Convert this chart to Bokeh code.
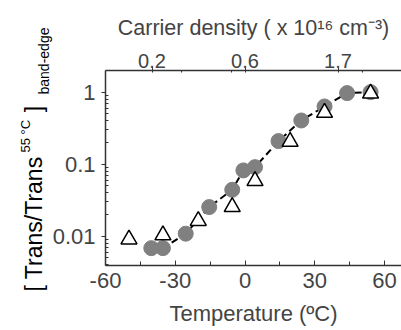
from bokeh.plotting import figure
from bokeh.models import (Range1d, LinearAxis, FixedTicker, Title, CustomJSTickFormatter)
from bokeh.embed import file_html
from bokeh.resources import INLINE

# ---- data ----
temp_circ = [-40.3, -35.3, -25.5, -15.4, -5.5, -0.7, 4.3, 14.4, 24.2, 34.2, 43.9, 54.0]
ratio_circ = [0.0068, 0.0068, 0.0108, 0.0253, 0.044, 0.0818, 0.0908, 0.209, 0.404, 0.633, 0.97, 1.0]
temp_tri = [-49.9, -35.3, -20.1, -5.5, 4.3, 19.4, 34.2, 54.0]
ratio_tri = [0.0090, 0.0103, 0.0163, 0.0254, 0.0583, 0.205, 0.518, 0.96]

x_ticks = [-60, -30, 0, 30, 60]
x_minor = [-45, -15, 15, 45]
y_ticks = [0.01, 0.1, 1]
y_minor = [0.004, 0.005, 0.006, 0.007, 0.008, 0.009,
           0.02, 0.03, 0.04, 0.05, 0.06, 0.07, 0.08, 0.09,
           0.2, 0.3, 0.4, 0.5, 0.6, 0.7, 0.8, 0.9, 2]
top_tick_pos = [-40, 0, 40]
top_tick_labels = ["0.2", "0.6", "1.7"]
top_minor_pos = [-27.2, -5.6, 50.5]

x_title = "Temperature (ºC)"
top_title = "Carrier density ( x 10\u00b9\u2076 cm\u207b\u00b3)"
y_title_main = "[ Trans/Trans" + "\u00a0" * 7 + "]"
y_title_sup = "55 °C"
y_title_sub = "band-edge"

FONT = "Liberation Sans"

p = figure(width=401, height=330,
           x_range=Range1d(-60, 67.3), y_range=Range1d(0.0039, 2.0),
           y_axis_type="log", output_backend="svg", toolbar_location=None,
           min_border_left=105, min_border_right=0, min_border_top=70, min_border_bottom=65)
p.outline_line_color = None
p.grid.visible = False

axis_color = "#333333"

# bottom axis
xa = p.xaxis[0]
xa.ticker = FixedTicker(ticks=x_ticks, minor_ticks=x_minor)
xa.formatter = CustomJSTickFormatter(code="return tick.toString();")
xa.axis_label = x_title
xa.axis_label_text_font = FONT
xa.axis_label_text_font_size = "22px"
xa.axis_label_text_font_style = "normal"
xa.axis_label_standoff = 10
xa.major_label_text_font = FONT
xa.major_label_text_font_size = "22px"
xa.major_label_standoff = 7
xa.major_tick_in = 5
xa.major_tick_out = 0
xa.minor_tick_in = 4
xa.minor_tick_out = 0
xa.axis_line_color = axis_color
xa.major_tick_line_color = axis_color
xa.minor_tick_line_color = axis_color
xa.axis_line_width = 1.5

# left axis
ya = p.yaxis[0]
ya.ticker = FixedTicker(ticks=y_ticks, minor_ticks=y_minor)
ya.formatter = CustomJSTickFormatter(code="return tick.toString();")
ya.major_label_text_font = FONT
ya.major_label_text_font_size = "22px"
ya.major_label_standoff = 6
ya.major_tick_in = 0
ya.major_tick_out = 4
ya.minor_tick_in = 3
ya.minor_tick_out = 0
ya.axis_line_color = axis_color
ya.major_tick_line_color = axis_color
ya.minor_tick_line_color = axis_color
ya.axis_line_width = 1.5

# top axis
ta = LinearAxis(ticker=FixedTicker(ticks=top_tick_pos, minor_ticks=top_minor_pos),
                major_label_overrides=dict(zip(top_tick_pos, top_tick_labels)))
ta.axis_label = top_title
ta.axis_label_text_font = FONT
ta.axis_label_text_font_size = "21.5px"
ta.axis_label_text_font_style = "normal"
ta.axis_label_standoff = 11
ta.major_label_text_font = FONT
ta.major_label_text_font_size = "20px"
ta.major_label_standoff = 0
ta.major_tick_in = 2
ta.major_tick_out = 3
ta.minor_tick_in = 2
ta.minor_tick_out = 0
ta.axis_line_color = axis_color
ta.major_tick_line_color = axis_color
ta.minor_tick_line_color = axis_color
ta.axis_line_width = 1.5
p.add_layout(ta, "above")

# data
p.line(temp_circ, ratio_circ, line_dash="7 4", line_width=2, line_color="black")
p.scatter(temp_circ, ratio_circ, marker="circle", size=15, fill_color="#808080", line_color="#808080")
p.scatter(temp_tri, ratio_tri, marker="triangle", size=16, fill_color="white",
          line_color="black", line_width=1.5)

# y-axis title in three pieces (subscript, main, superscript), stacked in the left panel
def ytitle(text, size, offset, standoff):
    p.add_layout(Title(text=text, text_font=FONT, text_font_size=size, text_font_style="normal",
                       text_color="black", align="left", vertical_align="bottom",
                       offset=offset, standoff=standoff), "left")

ytitle(y_title_sub, "14px", 171, -4)
ytitle(y_title_main, "23px", -26, -23)
ytitle(y_title_sup, "13px", 113, -5)

open("out.html", "w").write(file_html(p, INLINE))
